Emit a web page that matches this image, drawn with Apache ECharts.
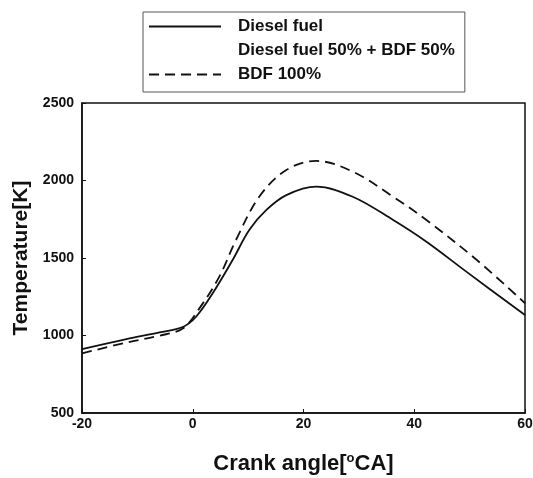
<!DOCTYPE html>
<html lang="en">
<head>
  <meta charset="UTF-8">
  <title>Temperature vs crank angle</title>
  <script src="https://cdn.jsdelivr.net/npm/echarts@6/dist/echarts.min.js"></script>
  <style>
    html, body { margin: 0; padding: 0; background: #fff; }
  </style>
</head>
<body>
<div id="main" style="width: 533px;height:478px;"></div>
<script type="text/javascript">

  // crank angle [deg CA]
  const dieselAngle = [-20, -12, -6, -1.8, 0.6, 3.6, 7.2, 10.2, 13.3, 16.9, 22.3, 28.9, 36.2, 42.2, 49.4, 60];
  // temperature [K], diesel fuel
  const dieselTemp = [912, 977, 1020, 1055, 1121, 1272, 1487, 1681, 1810, 1906, 1960, 1895, 1745, 1605, 1412, 1132];

  const bdfAngle = [-20, -12, -6, -1.8, 1.2, 4.8, 7.8, 12.0, 16.9, 22.3, 28.9, 36.2, 42.2, 51.3, 60];
  // temperature [K], BDF 100%
  const bdfTemp = [885, 954, 999, 1045, 1175, 1380, 1616, 1895, 2068, 2126, 2057, 1895, 1745, 1487, 1208];

  const legendNames = ['Diesel fuel', 'Diesel fuel 50% + BDF 50%', 'BDF 100%'];

  const xTicks = [-20, 0, 20, 40, 60];
  const yTicks = [500, 1000, 1500, 2000, 2500];

  function pairs(xs, ys) {
    return xs.map((x, i) => [x, ys[i]]);
  }

  var myChart = echarts.init(document.getElementById('main'));

  const fontFam = 'Liberation Sans, Arial, sans-serif';

  myChart.setOption({
    backgroundColor: 'white',
    animation: false,
    grid: {
      left: 82, top: 103, right: 8, bottom: 65,
      outerBoundsMode: 'none',
      containLabel: false,
      show: true, borderColor: '#111', borderWidth: 1.5
    },
    legend: {
      orient: 'vertical',
      left: 143, top: 12,
      padding: [6, 10, 9, 5],
      itemWidth: 72, itemHeight: 16, itemGap: 7,
      borderColor: '#555', borderWidth: 1,
      itemStyle: {opacity: 0},
      data: [
        {name: legendNames[0]},
        {name: legendNames[1], icon: 'none'},
        {name: legendNames[2]}
      ],
      textStyle: {fontFamily: fontFam, fontWeight: 'bold', fontSize: 17, color: '#111', padding: [0, 0, 0, 12]}
    },
    xAxis: {
      type: 'value',
      min: -20, max: 60, interval: 20,
      name: 'Crank angle[{sup|o}CA]',
      nameLocation: 'middle',
      nameGap: 39,
      nameTextStyle: {
        fontFamily: fontFam, fontWeight: 'bold', fontSize: 22, color: '#111',
        rich: {sup: {fontFamily: fontFam, fontWeight: 'bold', fontSize: 13, color: '#111', verticalAlign: 'top', padding: [0, 0, 10, 0]}}
      },
      axisLine: {show: true, onZero: false, lineStyle: {color: '#111', width: 1.5}},
      axisTick: {inside: true, length: 4, lineStyle: {color: '#111'}},
      axisLabel: {
        fontFamily: fontFam, fontWeight: 'bold', fontSize: 14, color: '#111', margin: 4,
        formatter: v => xTicks.includes(v) ? String(v) : ''
      },
      splitLine: {show: false}
    },
    yAxis: {
      type: 'value',
      min: 500, max: 2500, interval: 500,
      name: 'Temperature[K]',
      nameLocation: 'middle',
      nameGap: 50,
      nameTextStyle: {fontFamily: fontFam, fontWeight: 'bold', fontSize: 21, color: '#111'},
      axisLine: {show: true, onZero: false, lineStyle: {color: '#111', width: 1.5}},
      axisTick: {inside: true, length: 4, lineStyle: {color: '#111'}},
      axisLabel: {
        fontFamily: fontFam, fontWeight: 'bold', fontSize: 14, color: '#111', margin: 8,
        formatter: v => yTicks.includes(v) ? String(v) : ''
      },
      splitLine: {show: false}
    },
    series: [
      {
        name: legendNames[0], type: 'line', smooth: 0.35, symbol: 'none',
        lineStyle: {color: '#111', width: 1.8},
        itemStyle: {color: '#111'},
        data: pairs(dieselAngle, dieselTemp)
      },
      {
        name: legendNames[1], type: 'line', symbol: 'none',
        lineStyle: {color: '#111', width: 0},
        itemStyle: {color: '#111'},
        data: []
      },
      {
        name: legendNames[2], type: 'line', smooth: 0.35, symbol: 'none',
        lineStyle: {color: '#111', width: 1.8, type: [10, 6]},
        itemStyle: {color: '#111'},
        data: pairs(bdfAngle, bdfTemp)
      }
    ]
  });

</script>
</body>
</html>
